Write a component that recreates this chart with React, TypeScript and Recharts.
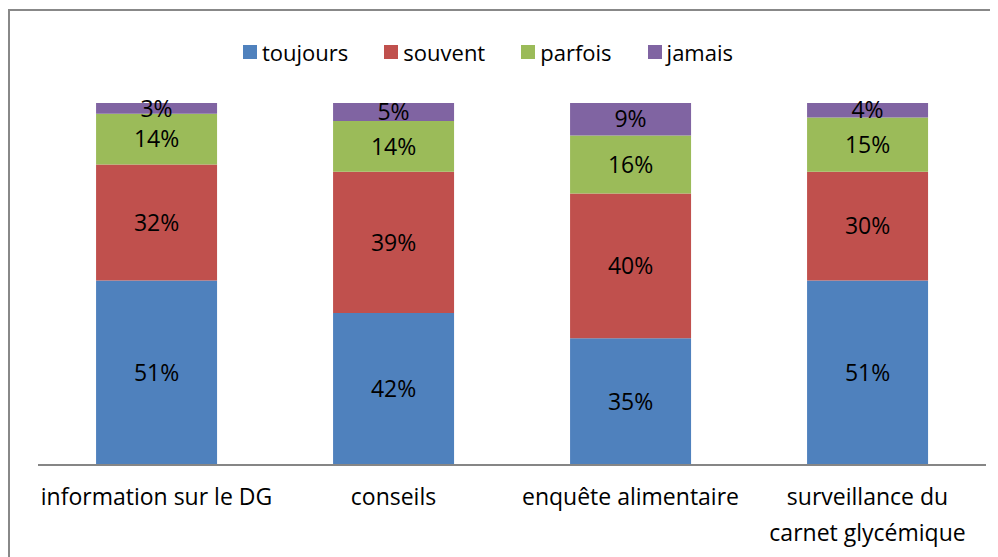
import { BarChart, Bar, XAxis, YAxis, Legend, LabelList } from "recharts";

const categories = ["information sur le DG", "conseils", "enquête alimentaire", "surveillance du\ncarnet glycémique"];
const toujours = [51, 42, 35, 51];
const souvent = [32, 39, 40, 30];
const parfois = [14, 14, 16, 15];
const jamais = [3, 5, 9, 4];

const series = [
  { key: "toujours", color: "#4F81BD" },
  { key: "souvent", color: "#C0504D" },
  { key: "parfois", color: "#9BBB59" },
  { key: "jamais", color: "#8064A2" },
];

const data = categories.map((c, i) => ({
  cat: c,
  toujours: toujours[i],
  souvent: souvent[i],
  parfois: parfois[i],
  jamais: jamais[i],
}));

const FONT = "'Open Sans', sans-serif";

function CatTick(props: any) {
  const { x, y, payload } = props;
  const lines = String(payload.value).split("\n");
  return (
    <text x={x} y={y} textAnchor="middle" fontFamily={FONT} fontSize={23} fill="#000">
      {lines.map((l, i) => (
        <tspan key={i} x={x} dy={i === 0 ? 32 : 36}>
          {l}
        </tspan>
      ))}
    </text>
  );
}

function LegendBox() {
  return (
    <div style={{ display: "flex", paddingLeft: 233, fontFamily: FONT, fontSize: 22, color: "#000", lineHeight: "30px" }}>
      {series.map((s) => (
        <div key={s.key} style={{ display: "flex", alignItems: "center", marginRight: 36 }}>
          <span style={{ width: 14, height: 14, background: s.color, marginRight: 5, display: "inline-block" }} />
          <span>{s.key}</span>
        </div>
      ))}
    </div>
  );
}

export default function App() {
  return (
    <div style={{ marginTop: 1, border: "2px solid #888", borderRight: "none", borderBottom: "none", width: 990, height: 548 }}>
      <BarChart width={990} height={548} data={data} margin={{ top: 92, right: 14, left: 28, bottom: 34 }} barCategoryGap="24.5%">
        <XAxis dataKey="cat" tick={<CatTick />} tickLine={false} axisLine={{ stroke: "#868686", strokeWidth: 2 }} height={60} interval={0} />
        <YAxis hide domain={[0, 100]} />
        <Legend verticalAlign="middle" wrapperStyle={{ top: 26, left: 0, width: 990 }} content={<LegendBox />} />
        {series.map((s) => (
          <Bar key={s.key} dataKey={s.key} stackId="a" fill={s.color} isAnimationActive={false}>
            <LabelList dataKey={s.key} position="center" formatter={(v: any) => `${v}%`} fill="#000" fontSize={23} fontFamily={FONT} />
          </Bar>
        ))}
      </BarChart>
    </div>
  );
}
